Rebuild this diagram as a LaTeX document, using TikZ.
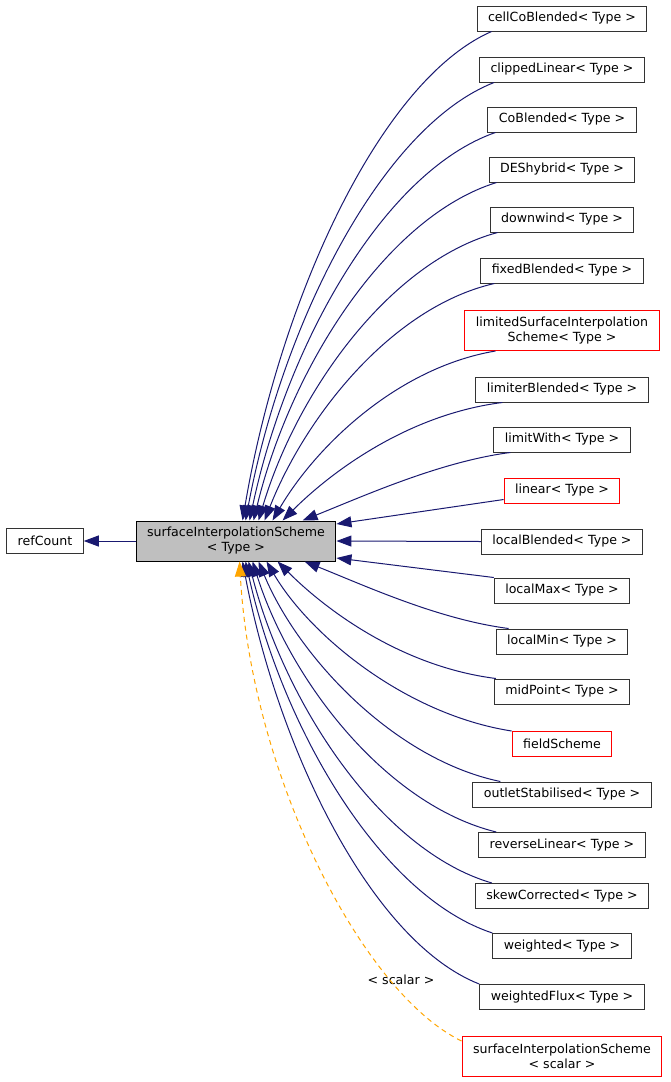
\documentclass[tikz,border=0pt]{standalone}
\usepackage{fontspec}
\setmainfont{DejaVu Sans}
\usepackage{xcolor}
\usetikzlibrary{arrows.meta}
\definecolor{edgeblue}{RGB}{25,25,112}
\definecolor{tmplorange}{RGB}{255,165,0}
\definecolor{basegray}{RGB}{191,191,191}
\definecolor{docred}{RGB}{255,0,0}
\begin{document}
\begin{tikzpicture}[x=1pt,y=-1pt]
        \tikzset{every node/.style={font=\fontsize{12.6}{15}\selectfont},
            cls/.style={draw=black!80,line width=1pt,fill=white,inner xsep=11pt,inner ysep=0pt,minimum height=25pt,align=center},
            undoc/.style={cls,draw=docred},
            base/.style={cls,draw=black,fill=basegray,minimum height=40pt},
            edge/.style={draw=edgeblue,line width=1pt,-{Triangle[length=15pt,width=11pt]}},
            tmpl/.style={edge,draw=tmplorange,dash pattern=on 5pt off 4pt}}
        \useasboundingbox (0,0) rectangle (671,1082);
        \node[cls] (refCount) at (45,541) {refCount};
        \node[base] (sis) at (236,541) {surfaceInterpolationScheme\\< Type >};
        \node[cls] (cellCoBlended) at (562,18.5) {cellCoBlended< Type >};
        \node[cls] (clippedLinear) at (562,69.5) {clippedLinear< Type >};
        \node[cls] (CoBlended) at (562,119.5) {CoBlended< Type >};
        \node[cls] (DEShybrid) at (562,169.5) {DEShybrid< Type >};
        \node[cls] (downwind) at (562,219.5) {downwind< Type >};
        \node[cls] (fixedBlended) at (562,270.5) {fixedBlended< Type >};
        \node[undoc,minimum height=40pt] (limitedSIS) at (562,330.5) {limitedSurfaceInterpolation\\Scheme< Type >};
        \node[cls] (limiterBlended) at (562,389.5) {limiterBlended< Type >};
        \node[cls] (limitWith) at (562,439.5) {limitWith< Type >};
        \node[undoc] (linear) at (562,490.5) {linear< Type >};
        \node[cls] (localBlended) at (562,541.5) {localBlended< Type >};
        \node[cls] (localMax) at (562,590.5) {localMax< Type >};
        \node[cls] (localMin) at (562,641.5) {localMin< Type >};
        \node[cls] (midPoint) at (562,691.5) {midPoint< Type >};
        \node[undoc] (fieldScheme) at (562,744) {fieldScheme};
        \node[cls] (outletStabilised) at (562,794.5) {outletStabilised< Type >};
        \node[cls] (reverseLinear) at (562,845) {reverseLinear< Type >};
        \node[cls] (skewCorrected) at (562,896) {skewCorrected< Type >};
        \node[cls] (weighted) at (562,946) {weighted< Type >};
        \node[cls] (weightedFlux) at (562,997) {weightedFlux< Type >};
        \node[undoc,minimum height=40pt] (sisScalar) at (562,1056) {surfaceInterpolationScheme\\< scalar >};
        \node (scalarLabel) at (401,980) {< scalar >};
        \draw[edge] (sis) -- (refCount);
        \draw[edge] ([xshift=15pt]cellCoBlended.south west) .. controls +(-112,49) and +(37,-220) .. ([xshift=107pt]sis.north west);
        \draw[edge] ([xshift=15pt]clippedLinear.south west) .. controls +(-112,44) and +(37,-198) .. ([xshift=110pt]sis.north west);
        \draw[edge] ([xshift=8pt]CoBlended.south west) .. controls +(-112,39) and +(37,-175) .. ([xshift=114pt]sis.north west);
        \draw[edge] ([xshift=8pt]DEShybrid.south west) .. controls +(-110,34) and +(37,-153) .. ([xshift=118pt]sis.north west);
        \draw[edge] ([xshift=8pt]downwind.south west) .. controls +(-108,29) and +(38,-128) .. ([xshift=123pt]sis.north west);
        \draw[edge] ([xshift=14pt]fixedBlended.south west) .. controls +(-104,24) and +(40,-102) .. ([xshift=129pt]sis.north west);
        \draw[edge] ([xshift=31pt]limitedSIS.south west) .. controls +(-100,17) and +(42,-72) .. ([xshift=137pt]sis.north west);
        \draw[edge] ([xshift=27pt]limiterBlended.south west) .. controls +(-95,12) and +(48,-48) .. ([xshift=147pt]sis.north west);
        \draw[edge] ([xshift=17pt]limitWith.south west) .. controls +(-70,9) and +(60,-24) .. ([xshift=167pt]sis.north west);
        \draw[edge] ([yshift=-9pt]linear.west) -- ([yshift=17pt]sis.east);
        \draw[edge] (localBlended.west) -- (sis.east);
        \draw[edge] (localMax.north west) -- ([yshift=-17pt]sis.east);
        \draw[edge] ([xshift=13pt]localMin.north west) .. controls +(-70,-9) and +(60,24) .. ([xshift=169pt]sis.south west);
        \draw[edge] ([xshift=2pt]midPoint.north west) .. controls +(-95,-12) and +(48,48) .. ([xshift=142pt]sis.south west);
        \draw[edge] (fieldScheme.north west) .. controls +(-108,-17) and +(42,72) .. ([xshift=131pt]sis.south west);
        \draw[edge] ([xshift=28pt]outletStabilised.north west) .. controls +(-106,-22) and +(40,96) .. ([xshift=123pt]sis.south west);
        \draw[edge] ([xshift=18pt]reverseLinear.north west) .. controls +(-110,-27) and +(38,120) .. ([xshift=117pt]sis.south west);
        \draw[edge] ([xshift=17pt]skewCorrected.north west) .. controls +(-110,-32) and +(37,144) .. ([xshift=113pt]sis.south west);
        \draw[edge] (weighted.north west) .. controls +(-112,-37) and +(37,167) .. ([xshift=110pt]sis.south west);
        \draw[edge] (weightedFlux.north west) .. controls +(-107,-42) and +(36,190) .. ([xshift=107pt]sis.south west);
        \draw[tmpl] ([yshift=15pt]sisScalar.west) .. controls +(-99,-48) and +(12,215) .. ([xshift=104pt]sis.south west);
    \end{tikzpicture}
\end{document}
